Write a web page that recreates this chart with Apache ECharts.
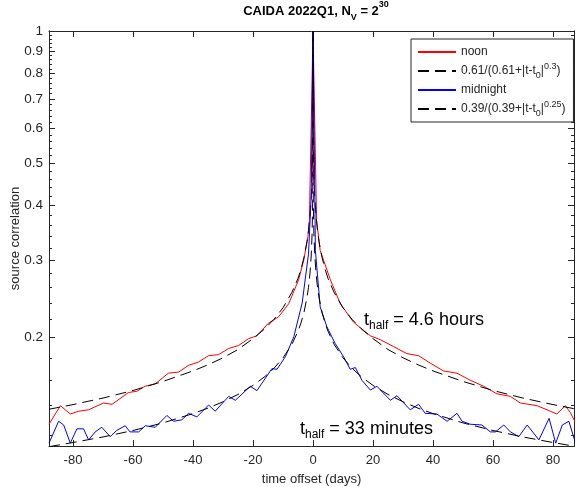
<!DOCTYPE html>
<html>
<head>
<meta charset="utf-8">
<script src="https://cdn.jsdelivr.net/npm/echarts@6/dist/echarts.min.js"></script>
<style>
  html, body { margin: 0; padding: 0; background: #fff; }
  #main { width: 576px; height: 487px; }
</style>
</head>
<body>
<div id="main"></div>
<script>
// noon curve
var noonDays = [-88, -84.2, -80.9, -78.1, -74.8, -69.8, -67, -61.5, -58.7, -56, -52.6, -48.2, -44.8, -41.5, -38.2,
  -34.8, -31.5, -28.1, -24.8, -21.5, -18.7, -14.8, -11.5, -8.1, -4.8, -3.1, -1.7, -1.2, 0,
  1.2, 2.4, 5.8, 9.1, 13.5, 19.1, 22.4, 26.8, 31.3, 35.2, 39.1, 43.5, 48, 52.4, 56.9, 61.3, 65.8,
  69.1, 74.7, 78, 81.3, 84.1, 85.8, 87.5];
var noonVals = [0.127, 0.140, 0.134, 0.136, 0.137, 0.142, 0.141, 0.150, 0.151, 0.155, 0.157, 0.166, 0.167, 0.173, 0.176,
  0.182, 0.183, 0.189, 0.192, 0.199, 0.202, 0.216, 0.223, 0.239, 0.271, 0.300, 0.340, 0.370, 1,
  0.370, 0.316, 0.271, 0.239, 0.217, 0.202, 0.198, 0.191, 0.184, 0.182, 0.175, 0.168, 0.166, 0.160, 0.155, 0.149, 0.147,
  0.142, 0.140, 0.137, 0.134, 0.140, 0.135, 0.128];

// midnight curve
var nightDays = [-88, -84.8, -83.1, -80.9, -78.7, -76.5, -74.8, -72.6, -70.4, -67.6, -65.4, -62.6, -61, -58.1, -55.9,
  -52.6, -48.7, -46.5, -43.7, -41.5, -38.7, -34.8, -32.6, -28.1, -25.9, -20.9, -18.7, -13.7, -12, -9.2,
  -6.4, -3.6, -2.5, -1.5, -0.6, 0, 0.8, 2.4, 4.6, 7.4, 10.2, 12.4, 14.1, 16.3, 19.1, 21.3, 25.8, 28, 32.4,
  35.2, 37.4, 41.3, 44.7, 48, 49.7, 52.4, 56.3, 59.1, 60.8, 63.6, 65.8, 68.6, 71.4, 75.3, 78.7, 80.9,
  83.1, 85.3, 87.5];
var nightVals = [0.115, 0.129, 0.1265, 0.115, 0.124, 0.124, 0.117, 0.122, 0.125, 0.119, 0.123, 0.126, 0.122, 0.122, 0.126,
  0.125, 0.133, 0.129, 0.130, 0.1345, 0.132, 0.1405, 0.136, 0.147, 0.144, 0.155, 0.1515, 0.170, 0.1695, 0.181,
  0.201, 0.240, 0.275, 0.310, 0.420, 1, 0.316, 0.235, 0.212, 0.194, 0.181, 0.1695, 0.171, 0.160, 0.152, 0.155, 0.144, 0.1475, 0.137,
  0.141, 0.1345, 0.134, 0.129, 0.1345, 0.129, 0.127, 0.1265, 0.122, 0.122, 0.1265, 0.122, 0.119, 0.1265, 0.117, 0.131, 0.115,
  0.1265, 0.129, 0.115];

// fitted curves, |t| in days (symmetric about 0)
var fitDays = [0, 0.02, 0.1, 0.3, 0.6, 1, 1.5, 2, 3, 4, 5, 7, 10, 13, 16, 20, 25, 30, 35, 40, 50, 60, 70, 80, 88];
var noonFit = [1, 0.664, 0.549, 0.467, 0.4155, 0.379, 0.3508, 0.331, 0.305, 0.2869, 0.273, 0.254, 0.234, 0.2203, 0.2098,
  0.199, 0.188, 0.180, 0.1735, 0.168, 0.159, 0.1516, 0.1457, 0.1408, 0.1374];
var nightFit = [1, 0.509, 0.410, 0.345, 0.3071, 0.2806, 0.2606, 0.247, 0.2286, 0.2162, 0.2069, 0.1934, 0.1799, 0.1704, 0.1632,
  0.1557, 0.1485, 0.1429, 0.1382, 0.1343, 0.1279, 0.1229, 0.1188, 0.1154, 0.1129];

var xTicks = [-80, -60, -40, -20, 0, 20, 40, 60, 80];
var yTicks = [0.2, 0.3, 0.4, 0.5, 0.6, 0.7, 0.8, 0.9, 1];
var yMinor = [0.12, 0.14, 0.16, 0.18, 0.22, 0.24, 0.26, 0.28, 0.32, 0.34, 0.36, 0.38, 0.42, 0.44, 0.46, 0.48,
  0.52, 0.54, 0.56, 0.58, 0.62, 0.64, 0.66, 0.68, 0.72, 0.74, 0.76, 0.78, 0.82, 0.84, 0.86, 0.88, 0.92, 0.94, 0.96, 0.98];

var FONT = 'Liberation Sans';
var INK = '#262626';
var yMin = Math.log10(0.1133);

function pairs(days, vals) {
  return days.map(function (d, i) { return [d, Math.log10(vals[i])]; });
}
function mirror(days, vals) {
  var out = [];
  for (var i = days.length - 1; i > 0; i--) out.push([-days[i], Math.log10(vals[i])]);
  for (var j = 0; j < days.length; j++) out.push([days[j], Math.log10(vals[j])]);
  return out;
}
var yMajorLog = yTicks.map(Math.log10);
var yMinorLog = yMinor.map(Math.log10);

var subSup = {
  sub: { fontSize: 9, lineHeight: 9, verticalAlign: 'bottom', fontFamily: FONT, color: INK },
  sup: { fontSize: 9, lineHeight: 9, verticalAlign: 'top', fontFamily: FONT, color: INK }
};

var legendText = {
  'noon': 'noon',
  'fitNoon': '0.61/(0.61+|t-t{sub|0}|{sup|0.3})',
  'midnight': 'midnight',
  'fitNight': '0.39/(0.39+|t-t{sub|0}|{sup|0.25})'
};

function yAxisCfg(pos, ticks, len, labels) {
  return {
    type: 'value', min: yMin, max: 0, position: pos,
    axisLine: { show: true, onZero: false, lineStyle: { color: INK, width: 1 } },
    axisTick: { show: true, inside: true, length: len, customValues: ticks, lineStyle: { color: INK } },
    axisLabel: labels ? {
      customValues: yMajorLog, color: INK, fontSize: 13.5, fontFamily: FONT, margin: 6,
      formatter: function (v) { return String(Math.round(Math.pow(10, v) * 10) / 10); }
    } : { show: false },
    splitLine: { show: false }
  };
}

var myChart = echarts.init(document.getElementById('main'));
var left = yAxisCfg('left', yMajorLog, 6, true);
left.name = 'source correlation';
left.nameLocation = 'middle';
left.nameGap = 27;
left.nameMoveOverlap = false;
left.nameTextStyle = { color: INK, fontSize: 13, fontFamily: FONT };

var option = {
  animation: false,
  backgroundColor: '#fff',
  title: {
    text: 'CAIDA 2022Q1, N{sub|V} = 2{sup|30}',
    left: 311, top: -5, textAlign: 'center',
    textStyle: {
      color: '#000', fontSize: 13, fontWeight: 'bold', fontFamily: FONT, lineHeight: 22,
      rich: {
        sub: { fontSize: 9, fontWeight: 'bold', lineHeight: 9, verticalAlign: 'bottom', fontFamily: FONT },
        sup: { fontSize: 9, fontWeight: 'bold', lineHeight: 9, verticalAlign: 'top', fontFamily: FONT }
      }
    }
  },
  grid: { left: 49, right: 2, top: 31, bottom: 41, outerBoundsMode: 'none', containLabel: false },
  legend: {
    orient: 'vertical', left: 411, top: 39,
    data: ['noon', 'fitNoon', 'midnight', 'fitNight'],
    itemWidth: 38, itemHeight: 12, itemGap: 1,
    padding: [4, 8, 4, 6],
    borderColor: INK, borderWidth: 1, backgroundColor: '#fff',
    itemStyle: { opacity: 0 },
    formatter: function (name) { return legendText[name]; },
    textStyle: { color: INK, fontSize: 12, fontFamily: FONT, lineHeight: 18, rich: subSup }
  },
  xAxis: [{
    type: 'value', min: -88, max: 87, position: 'bottom',
    axisLine: { show: true, onZero: false, lineStyle: { color: INK } },
    axisTick: { inside: true, length: 6, customValues: xTicks, lineStyle: { color: INK } },
    axisLabel: { customValues: xTicks, color: INK, fontSize: 13, fontFamily: FONT, margin: 8 },
    splitLine: { show: false },
    name: 'time offset (days)', nameLocation: 'middle', nameGap: 27,
    nameTextStyle: { color: INK, fontSize: 13, fontFamily: FONT }
  }, {
    type: 'value', min: -88, max: 87, position: 'top',
    axisLine: { show: true, onZero: false, lineStyle: { color: INK } },
    axisTick: { inside: true, length: 6, customValues: xTicks, lineStyle: { color: INK } },
    axisLabel: { show: false },
    splitLine: { show: false }
  }],
  yAxis: [
    left,
    yAxisCfg('left', yMinorLog, 3, false),
    yAxisCfg('right', yMajorLog, 6, false),
    yAxisCfg('right', yMinorLog, 3, false)
  ],
  graphic: [{
    type: 'text', x: 364, y: 320,
    style: {
      text: 't{sub|half} = 4.6 hours', fill: '#000', fontSize: 18, fontFamily: FONT,
      verticalAlign: 'middle', lineHeight: 24,
      rich: { sub: { fontSize: 12, lineHeight: 14, verticalAlign: 'bottom', fontFamily: FONT } }
    }
  }, {
    type: 'text', x: 300, y: 429,
    style: {
      text: 't{sub|half} = 33 minutes', fill: '#000', fontSize: 18, fontFamily: FONT,
      verticalAlign: 'middle', lineHeight: 24,
      rich: { sub: { fontSize: 12, lineHeight: 14, verticalAlign: 'bottom', fontFamily: FONT } }
    }
  }],
  series: [{
    name: 'noon', type: 'line', symbol: 'none', data: pairs(noonDays, noonVals),
    lineStyle: { color: '#ff0000', width: 1 }, itemStyle: { color: '#ff0000' }
  }, {
    name: 'fitNoon', type: 'line', symbol: 'none', data: mirror(fitDays, noonFit),
    lineStyle: { color: '#000', width: 1, type: [11, 6] }, itemStyle: { color: '#000' }
  }, {
    name: 'midnight', type: 'line', symbol: 'none', data: pairs(nightDays, nightVals),
    lineStyle: { color: '#0000ff', width: 1 }, itemStyle: { color: '#0000ff' }
  }, {
    name: 'fitNight', type: 'line', symbol: 'none', data: mirror(fitDays, nightFit),
    lineStyle: { color: '#000', width: 1, type: [11, 6] }, itemStyle: { color: '#000' }
  }]
};
myChart.setOption(option);
</script>
</body>
</html>
